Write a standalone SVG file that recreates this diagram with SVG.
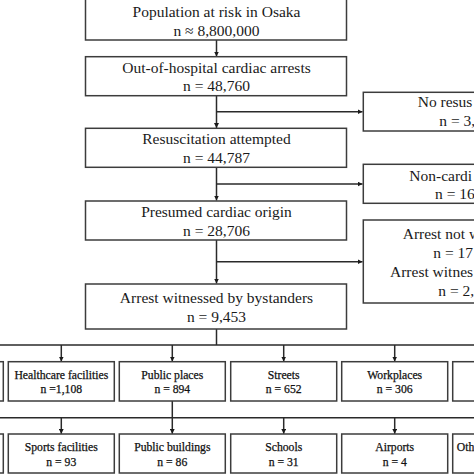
<svg xmlns="http://www.w3.org/2000/svg" width="474" height="474" viewBox="0 0 474 474">
<style>
.box{fill:#fff;stroke:#3c3c3c;stroke-width:1.5}
.ln{fill:none;stroke:#2a2a2a;stroke-width:1.5}
.t{font-family:"Liberation Serif","Times New Roman",serif;font-size:15.5px;fill:#1a1a1a;text-anchor:middle}
.ts{font-family:"Liberation Serif","Times New Roman",serif;font-size:15.5px;fill:#1a1a1a}
.s{font-family:"Liberation Serif","Times New Roman",serif;font-size:11.7px;fill:#111;stroke:#111;stroke-width:0.25;text-anchor:middle}
.ss{font-family:"Liberation Serif","Times New Roman",serif;font-size:11.7px;fill:#111;stroke:#111;stroke-width:0.25}
</style>
<defs>
<marker id="ah" viewBox="0 0 10 10" refX="10" refY="5" markerWidth="5" markerHeight="5" markerUnits="userSpaceOnUse" orient="auto">
<path d="M0,0 L10,5 L0,10 z" fill="#1a1a1a"/>
</marker>
</defs>
<rect width="474" height="474" fill="#fff"/>
<g id="connectors">
<line class="ln" x1="216.5" y1="40" x2="216.5" y2="56.5" marker-end="url(#ah)"/>
<line class="ln" x1="216.5" y1="96" x2="216.5" y2="128" marker-end="url(#ah)"/>
<line class="ln" x1="216.5" y1="111.7" x2="362.5" y2="111.7" marker-end="url(#ah)"/>
<line class="ln" x1="216.5" y1="167.5" x2="216.5" y2="200.5" marker-end="url(#ah)"/>
<line class="ln" x1="216.5" y1="184" x2="362.5" y2="184" marker-end="url(#ah)"/>
<line class="ln" x1="216.5" y1="240" x2="216.5" y2="283.5" marker-end="url(#ah)"/>
<line class="ln" x1="216.5" y1="261.7" x2="362.5" y2="261.7" marker-end="url(#ah)"/>
<line class="ln" x1="216.5" y1="329" x2="216.5" y2="345"/>
<line class="ln" x1="0" y1="345" x2="474" y2="345"/>
<line class="ln" x1="61.3" y1="345" x2="61.3" y2="361.5" marker-end="url(#ah)"/>
<line class="ln" x1="172.3" y1="345" x2="172.3" y2="361.5" marker-end="url(#ah)"/>
<line class="ln" x1="283.7" y1="345" x2="283.7" y2="361.5" marker-end="url(#ah)"/>
<line class="ln" x1="394.7" y1="345" x2="394.7" y2="361.5" marker-end="url(#ah)"/>
<line class="ln" x1="172.3" y1="401" x2="172.3" y2="417.7"/>
<line class="ln" x1="0" y1="417.7" x2="474" y2="417.7"/>
<line class="ln" x1="61.3" y1="417.7" x2="61.3" y2="433.8" marker-end="url(#ah)"/>
<line class="ln" x1="172.3" y1="417.7" x2="172.3" y2="433.8" marker-end="url(#ah)"/>
<line class="ln" x1="283.7" y1="417.7" x2="283.7" y2="433.8" marker-end="url(#ah)"/>
<line class="ln" x1="394.7" y1="417.7" x2="394.7" y2="433.8" marker-end="url(#ah)"/>
</g>
<g id="population">
<rect class="box" x="85.5" y="-1" width="261" height="41"/>
<text class="t" x="216.5" y="17.3">Population at risk in Osaka</text>
<text class="t" x="216.5" y="35.6">n ≈ 8,800,000</text>
</g>
<g id="ohca">
<rect class="box" x="85.5" y="56.7" width="261" height="39"/>
<text class="t" x="216.5" y="72.7">Out-of-hospital cardiac arrests</text>
<text class="t" x="216.5" y="91">n = 48,760</text>
</g>
<g id="no-resus">
<rect class="box" x="363.3" y="92.3" width="130" height="38.7"/>
<text class="ts" x="417.7" y="107.3">No resus</text>
<text class="ts" x="439.3" y="126">n = 3,</text>
</g>
<g id="resus">
<rect class="box" x="85.5" y="128.3" width="261" height="39"/>
<text class="t" x="216.5" y="144.3">Resuscitation attempted</text>
<text class="t" x="216.5" y="162.5">n = 44,787</text>
</g>
<g id="non-cardiac">
<rect class="box" x="363.3" y="164.3" width="130" height="39"/>
<text class="ts" x="409.3" y="180.7">Non-cardi</text>
<text class="ts" x="435" y="199">n = 16</text>
</g>
<g id="cardiac">
<rect class="box" x="85.5" y="201" width="261" height="39"/>
<text class="t" x="216.5" y="216.7">Presumed cardiac origin</text>
<text class="t" x="216.5" y="236">n = 28,706</text>
</g>
<g id="not-witnessed">
<rect class="box" x="363.3" y="220" width="130" height="83"/>
<text class="ts" x="402.7" y="239">Arrest not w</text>
<text class="ts" x="433.3" y="258">n = 17</text>
<text class="ts" x="390" y="277">Arrest witnes</text>
<text class="ts" x="438.3" y="296">n = 2,</text>
</g>
<g id="bystanders">
<rect class="box" x="85.5" y="284" width="261" height="45"/>
<text class="t" x="216.5" y="302.7">Arrest witnessed by bystanders</text>
<text class="t" x="216.5" y="322">n = 9,453</text>
</g>
<g id="row1-left"><rect class="box" x="-103" y="361.7" width="106.3" height="39.3"/></g>
<g id="healthcare">
<rect class="box" x="8.3" y="361.7" width="106" height="39.3"/>
<text class="s" x="61.3" y="379.3">Healthcare facilities</text>
<text class="s" x="61.3" y="393.3">n =1,108</text>
</g>
<g id="public-places">
<rect class="box" x="119.3" y="361.7" width="106" height="39.3"/>
<text class="s" x="172.3" y="379.3">Public places</text>
<text class="s" x="172.3" y="393.3">n = 894</text>
</g>
<g id="streets">
<rect class="box" x="230.7" y="361.7" width="106" height="39.3"/>
<text class="s" x="283.7" y="379.3">Streets</text>
<text class="s" x="283.7" y="393.3">n = 652</text>
</g>
<g id="workplaces">
<rect class="box" x="341.7" y="361.7" width="106" height="39.3"/>
<text class="s" x="394.7" y="379.3">Workplaces</text>
<text class="s" x="394.7" y="393.3">n = 306</text>
</g>
<g id="row1-right"><rect class="box" x="452.7" y="361.7" width="106" height="39.3"/></g>
<g id="row2-left"><rect class="box" x="-103" y="434" width="106.3" height="39"/></g>
<g id="sports">
<rect class="box" x="8.3" y="434" width="106" height="39"/>
<text class="s" x="61.3" y="451">Sports facilities</text>
<text class="s" x="61.3" y="465.7">n = 93</text>
</g>
<g id="public-buildings">
<rect class="box" x="119.3" y="434" width="106" height="39"/>
<text class="s" x="172.3" y="451">Public buildings</text>
<text class="s" x="172.3" y="465.7">n = 86</text>
</g>
<g id="schools">
<rect class="box" x="230.7" y="434" width="106" height="39"/>
<text class="s" x="283.7" y="451">Schools</text>
<text class="s" x="283.7" y="465.7">n = 31</text>
</g>
<g id="airports">
<rect class="box" x="341.7" y="434" width="106" height="39"/>
<text class="s" x="394.7" y="451">Airports</text>
<text class="s" x="394.7" y="465.7">n = 4</text>
</g>
<g id="others">
<rect class="box" x="452.7" y="434" width="106" height="39"/>
<text class="ss" x="456.7" y="451">Oth</text>
</g>
</svg>
